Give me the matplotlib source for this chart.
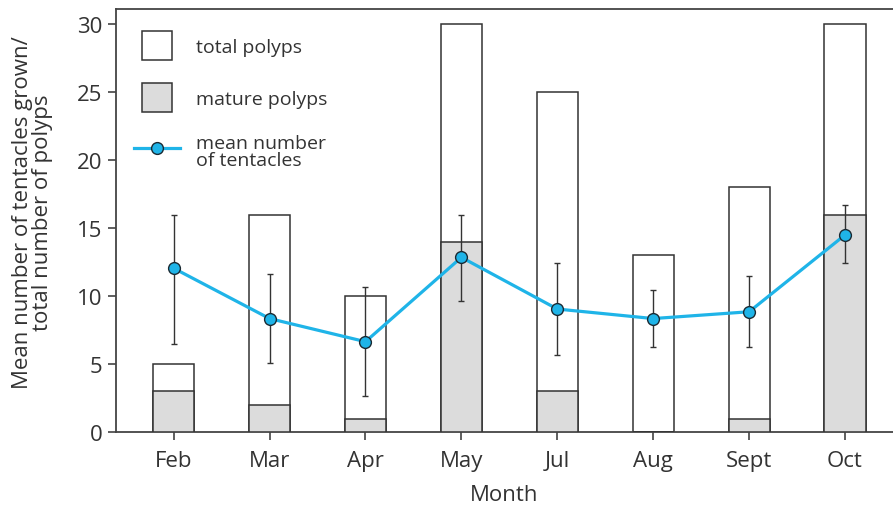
import matplotlib.pyplot as plt
from matplotlib.patches import Patch, Rectangle
from matplotlib.lines import Line2D
from matplotlib.legend_handler import HandlerPatch

plt.rcParams['font.family'] = ['Open Sans', 'DejaVu Sans']

# Polyp data by month
months = ['Feb', 'Mar', 'Apr', 'May', 'Jul', 'Aug', 'Sept', 'Oct']
total_polyps = [5, 16, 10, 30, 25, 13, 18, 30]
mature_polyps = [3, 2, 1, 14, 3, 0, 1, 16]
mean_tentacles = [12.05, 8.35, 6.65, 12.85, 9.05, 8.35, 8.85, 14.5]
err_low = [6.5, 5.05, 2.65, 9.65, 5.7, 6.25, 6.25, 12.4]
err_high = [16.0, 11.65, 10.65, 16.0, 12.4, 10.45, 11.45, 16.7]

dark = '#333333'
cyan = '#1fb4e8'


# square legend boxes, narrower than the line handle
def square_patch(legend, orig_handle, xdescent, ydescent, width, height, fontsize):
    side = height
    return Rectangle((-xdescent + (width - side) / 2, -ydescent), side, side)


fig = plt.figure(figsize=(8.93, 5.06), dpi=100)
ax = fig.add_axes([0.130, 0.144, 0.870, 0.836])

x = range(len(months))
ax.bar(x, total_polyps, width=0.43, color='white', edgecolor=dark, linewidth=1.1, zorder=2)
ax.bar(x, mature_polyps, width=0.43, color='#dcdcdc', edgecolor=dark, linewidth=1.1, zorder=3)

yerr = [[m - lo for m, lo in zip(mean_tentacles, err_low)],
        [hi - m for m, hi in zip(mean_tentacles, err_high)]]
ax.errorbar(x, mean_tentacles, yerr=yerr, fmt='none', ecolor=dark,
            elinewidth=1.0, capsize=2.5, capthick=1.0, zorder=4)
ax.plot(x, mean_tentacles, color=cyan, linewidth=2.3, marker='o', markersize=8.5,
        markerfacecolor=cyan, markeredgecolor='#1a2a33', markeredgewidth=1.0, zorder=5)

ax.set_xlim(-0.6, 7.5)
ax.set_ylim(0, 31.1)
ax.set_xticks(list(x))
ax.set_xticklabels(months)
ax.set_yticks([0, 5, 10, 15, 20, 25, 30])
ax.tick_params(axis='both', labelsize=16, colors=dark, length=6, width=1.1, direction='out')
ax.tick_params(axis='x', pad=7)
ax.tick_params(axis='y', pad=4)

for side in ['left', 'bottom', 'top']:
    ax.spines[side].set_color('#444444')
    ax.spines[side].set_linewidth(1.3)
ax.spines['right'].set_visible(False)

ax.set_xlabel('Month', fontsize=16, color=dark, labelpad=9)
ax.set_ylabel('Mean number of tentacles grown/\ntotal number of polyps', fontsize=16,
              color=dark, linespacing=0.95)
ax.yaxis.set_label_coords(-0.081, 0.522)

handles = [
    Patch(facecolor='white', edgecolor=dark, linewidth=1.1),
    Patch(facecolor='#dcdcdc', edgecolor=dark, linewidth=1.1),
    Line2D([0], [0], color=cyan, linewidth=2.3, marker='o', markersize=8.5,
           markerfacecolor=cyan, markeredgecolor='#1a2a33'),
]
labels = ['total polyps', 'mature polyps', 'mean number\nof tentacles']
leg = ax.legend(handles, labels, loc='upper left', bbox_to_anchor=(0.0, 0.99),
                frameon=False, fontsize=14, handlelength=2.4, handleheight=1.95,
                labelspacing=1.15, handletextpad=0.8, borderaxespad=0.5,
                handler_map={Patch: HandlerPatch(patch_func=square_patch)})
for t in leg.get_texts():
    t.set_color(dark)
    t.set_linespacing(0.9)

fig.savefig('out.png', dpi=100, facecolor='white')
